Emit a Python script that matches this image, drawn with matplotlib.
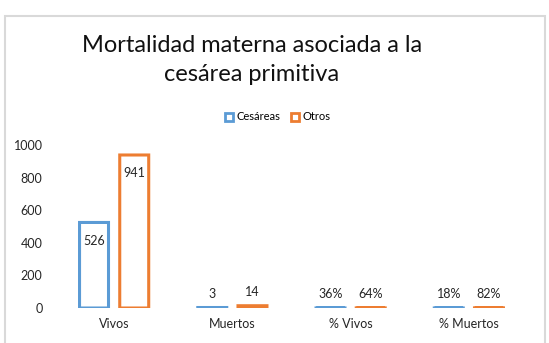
import matplotlib
matplotlib.use("Agg")
import matplotlib.pyplot as plt
from matplotlib.patches import Rectangle, Patch
import numpy as np

categories = ["Vivos", "Muertos", "% Vivos", "% Muertos"]
cesareas = [526, 3, 0.36, 0.18]
otros = [941, 14, 0.64, 0.82]
series_names = ["Cesáreas", "Otros"]
yticks = [0, 200, 400, 600, 800, 1000]
title = "Mortalidad materna asociada a la\ncesárea primitiva"

BLUE = "#5B9BD5"
ORANGE = "#ED7D31"
FONT = "Lato"

plt.rcParams['font.family'] = [FONT, 'DejaVu Sans']

fig = plt.figure(figsize=(5.49, 3.43), dpi=100)
fig.patch.set_facecolor("white")

# chart frame
fig.patches.append(Rectangle((5/549, -0.1), 540/549, 1.1 - 16/343, transform=fig.transFigure,
                             fill=False, edgecolor="#d9d9d9", linewidth=1.5, zorder=0))

ax = fig.add_axes([55/549, 35/343, (528-55)/549, (197.6-35)/343])
x = np.arange(len(categories))
w = 0.245
off = 0.17
lw = 2.2

def fmt(v):
    return f"{v*100:.0f}%" if v < 1 else f"{v:.0f}"

for vals, sign, col in [(cesareas, -1, BLUE), (otros, 1, ORANGE)]:
    bars = ax.bar(x + sign*off, vals, width=w, facecolor="none", edgecolor=col,
                  linewidth=lw, joinstyle="miter")
    for b in bars:
        b.set_snap(False)
    for xi, v in zip(x + sign*off, vals):
        if v > 100:
            ax.annotate(fmt(v), (xi, v), xytext=(0, -13), textcoords="offset points",
                        ha="center", va="center", fontsize=9, color="#262626")
        else:
            ax.annotate(fmt(v), (xi, v), xytext=(0, 10), textcoords="offset points",
                        ha="center", va="center", fontsize=9, color="#262626")

ax.set_xlim(-0.5, len(categories) - 0.5)
ax.set_ylim(0, 1000)
ax.set_yticks(yticks)
ax.set_yticklabels([str(t) for t in yticks], fontsize=9, color="#262626")
ax.set_xticks(x)
ax.set_xticklabels(categories, fontsize=9, color="#262626")
ax.tick_params(axis="both", length=0)
ax.tick_params(axis="y", pad=9)
ax.tick_params(axis="x", pad=7)
for s in ax.spines.values():
    s.set_visible(False)
ax.set_facecolor("none")

fig.text(252/549, 1 - 60/343, title, ha="center", va="center", fontsize=17,
         color="#111111", linespacing=1.42)

handles = [Patch(facecolor="none", edgecolor=BLUE, linewidth=2),
           Patch(facecolor="none", edgecolor=ORANGE, linewidth=2)]
fig.legend(handles, series_names, loc="center", bbox_to_anchor=(278/549, 1 - 117/343),
           ncol=2, frameon=False, fontsize=8, handlelength=0.7, handleheight=0.7,
           handletextpad=0.3, columnspacing=1.0)

fig.savefig("out.png", dpi=100)
